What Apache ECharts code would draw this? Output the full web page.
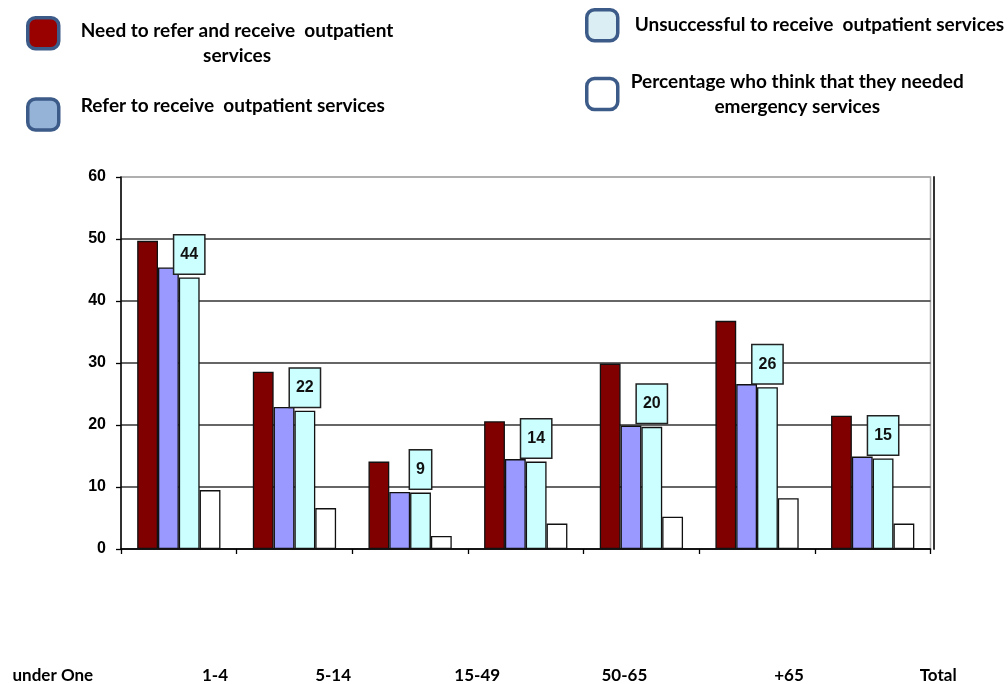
<!DOCTYPE html>
<html><head><meta charset="utf-8">
<script src="https://cdn.jsdelivr.net/npm/echarts@6/dist/echarts.min.js"></script>
<style>html,body{margin:0;padding:0;background:#fff}#c{width:1008px;height:684px}</style>
</head><body><div id="c"></div>
<script>
// ---- data ----
const categories = ['under One', '1-4', '5-14', '15-49', '50-65', '+65', 'Total'];
const seriesNames = [
  'Need to refer and receive  outpatient services',
  'Refer to receive  outpatient services',
  'Unsuccessful to receive  outpatient services',
  'Percentage who think that they needed emergency services'
];
const legendLines = [
  ['Need to refer and receive  outpatient', 'services'],
  ['Refer to receive  outpatient services'],
  ['Unsuccessful to receive  outpatient services'],
  ['Percentage who think that they needed', 'emergency services']
];
const needRefer    = [49.7, 28.6, 14.1, 20.6, 29.9, 36.8, 21.5];
const referred     = [45.4, 22.9,  9.2, 14.5, 19.9, 26.6, 14.9];
const unsuccessful = [43.8, 22.3,  9.1, 14.1, 19.7, 26.1, 14.6];
const emergency    = [ 9.5,  6.6,  2.1,  4.1,  5.2,  8.2,  4.1];
const yMin = 0, yMax = 60, yInterval = 10;

// ---- styles ----
const barColors = ['#800000', '#9999ff', '#ccffff', '#ffffff'];
const legendColors = ['#990000', '#95b3d7', '#dbeef3', '#ffffff'];
const legendBorder = '#3c5b88';
const legendPos = [
  {left: 26, top: 16, pad: [20, 0, 0, 17]},
  {left: 26, top: 96, pad: [0, 0, 18, 17]},
  {left: 585, top: 8, pad: [0, 0, 0, 12]},
  {left: 585, top: 72, pad: [0, 0, 0, 8]}
];
// horizontal label shifts (rich padding) to mimic reference placement
const labelPad = [[0, 252, 0, 0], [0, 159, 0, 0], [0, 154, 0, 0], [0, 97, 0, 0], [0, 34, 0, 0], [0, 0, 0, 64], [0, 0, 0, 131]];
const legendFont = 'Lato, "Open Sans", sans-serif';
const axisFont = '"Liberation Sans", Arial, sans-serif';

const rich = {};
labelPad.forEach((p, i) => {
  rich['s' + i] = {padding: p, fontFamily: legendFont, fontWeight: 'bold', fontSize: 17, color: '#000'};
});

const legends = seriesNames.map((name, i) => ({
  left: legendPos[i].left,
  top: legendPos[i].top,
  padding: 0,
  orient: 'vertical',
  selectedMode: false,
  icon: 'roundRect',
  itemWidth: 31,
  itemHeight: 31,
  data: [{name: name, itemStyle: {color: legendColors[i], borderColor: legendBorder, borderWidth: 3.5}}],
  formatter: () => legendLines[i].map(l => '{a|' + l + '}').join('\n'),
  textStyle: {
    padding: legendPos[i].pad,
    rich: {a: {align: 'center', fontFamily: legendFont, fontWeight: 'bold', fontSize: 19, lineHeight: 25, color: '#000'}}
  }
}));

const datasets = [needRefer, referred, unsuccessful, emergency];
const series = datasets.map((d, i) => {
  const s = {
    name: seriesNames[i],
    type: 'bar',
    data: d,
    barGap: '0%',
    barCategoryGap: '28%',
    itemStyle: {color: barColors[i], borderColor: '#111', borderWidth: 1.3},
    emphasis: {disabled: true}
  };
  if (i === 2) {
    s.label = {
      show: true, position: 'top', distance: 4,
      formatter: p => Math.round(p.value),
      backgroundColor: '#ccffff', borderColor: '#222', borderWidth: 1.5,
      padding: [11, 6, 11, 6],
      fontFamily: axisFont, fontWeight: 'bold', fontSize: 16, color: '#111'
    };
  }
  return s;
});

const chart = echarts.init(document.getElementById('c'), null, {renderer: 'canvas'});
chart.setOption({
  backgroundColor: '#fff',
  animation: false,
  legend: legends,
  grid: {left: 121, right: 77.5, top: 177, bottom: 135, show: true, borderColor: '#aaa', borderWidth: 1.5, containLabel: false},
  xAxis: {
    type: 'category',
    data: categories,
    boundaryGap: true,
    axisLine: {lineStyle: {color: '#000', width: 1.5}},
    axisTick: {show: true, length: 5, alignWithLabel: false, lineStyle: {color: '#000', width: 1.3}},
    axisLabel: {
      interval: 0, margin: 118,
      formatter: (v, idx) => '{s' + idx + '|' + v + '}',
      rich: rich
    }
  },
  yAxis: [{
    type: 'value', min: yMin, max: yMax, interval: yInterval,
    axisLine: {show: true, lineStyle: {color: '#000', width: 1.5}},
    axisTick: {show: true, length: 5, lineStyle: {color: '#000', width: 1.3}},
    axisLabel: {margin: 15, fontFamily: axisFont, fontWeight: 'bold', fontSize: 16, color: '#000'},
    splitLine: {show: true, lineStyle: {color: ['#333', '#333', '#333', '#333', '#333', '#333', '#aaa'], width: 1.5}}
  }, {
    type: 'value', min: yMin, max: yMax, interval: yInterval, position: 'right', offset: 3,
    axisLine: {show: true, lineStyle: {color: '#333', width: 2}},
    axisTick: {show: false}, axisLabel: {show: false}, splitLine: {show: false}
  }],
  series: series
});
</script>
</body></html>
